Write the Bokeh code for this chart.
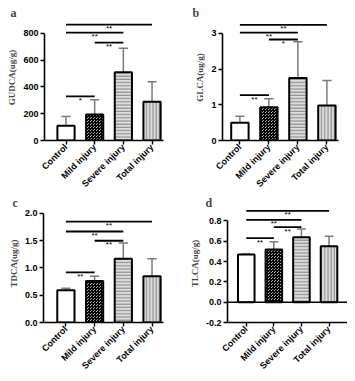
from bokeh.plotting import figure
from bokeh.layouts import column, row
from bokeh.models import FixedTicker, NumeralTickFormatter, Span, ColumnDataSource
from bokeh.core.properties import value
from bokeh.embed import file_html
from bokeh.resources import INLINE

categories = ["Control", "Mild injury", "Severe injury", "Total injury"]

gudca_mean = [110, 195, 510, 290]
gudca_sd = [70, 110, 180, 150]
gudca_sig = [(0, 1, 330, "*"), (1, 2, 732, "**"), (0, 2, 807, "**"), (0, 3, 867, "**")]

glca_mean = [0.50, 0.93, 1.75, 0.98]
glca_sd = [0.18, 0.24, 1.02, 0.70]
glca_sig = [(0, 1, 1.27, "**"), (1, 2, 2.83, "*"), (0, 2, 3.02, "**"), (0, 3, 3.24, "**")]

tdca_mean = [0.59, 0.76, 1.17, 0.85]
tdca_sd = [0.04, 0.09, 0.29, 0.32]
tdca_sig = [(0, 1, 0.92, "**"), (1, 2, 1.50, "**"), (0, 2, 1.67, "**"), (0, 3, 1.85, "**")]

tlca_mean = [0.47, 0.52, 0.64, 0.55]
tlca_sd = [0.005, 0.075, 0.08, 0.10]
tlca_sig = [(0, 1, 0.63, "**"), (1, 2, 0.74, "**"), (0, 2, 0.81, "**"), (0, 3, 0.90, "**")]

FILL = ["white", "white", "#dedede", "#dedede"]
HATCH = [" ", "criss_cross", "horizontal_line", "vertical_line"]
HATCH_COLOR = ["black", "black", "#8a8a8a", "#8a8a8a"]
HATCH_SCALE = [6, 3, 3.2, 3.2]
HATCH_WEIGHT = [1, 1.1, 1.1, 1.1]

SANS = "Liberation Sans"
SERIF = "Liberation Serif"


def panel(letter, ylabel, means, sds, sig, yr, bounds, ticks, fmt, xr, w, h,
          bl, br, bt, bb, toff, zero_line=False):
    p = figure(width=w, height=h, x_range=xr, y_range=yr, output_backend="svg",
               toolbar_location=None, min_border_left=bl, min_border_right=br,
               min_border_top=bt, min_border_bottom=bb)
    p.outline_line_color = None
    p.grid.visible = False
    p.background_fill_color = "white"
    p.border_fill_color = "white"
    xs = list(range(len(categories)))
    tops = [m + s for m, s in zip(means, sds)]
    p.segment(x0=xs, y0=means, x1=xs, y1=tops, line_color="#7a7a7a", line_width=1.5)
    p.segment(x0=[x - 0.16 for x in xs], y0=tops, x1=[x + 0.16 for x in xs], y1=tops,
              line_color="#7a7a7a", line_width=1.5)
    src = ColumnDataSource(dict(x=xs, top=means, fill=FILL, hatch=HATCH,
                                hc=HATCH_COLOR, hs=HATCH_SCALE, hw=HATCH_WEIGHT))
    p.vbar(x="x", top="top", bottom=0, width=0.6, source=src, fill_color="fill",
           hatch_pattern="hatch", hatch_color="hc", hatch_scale="hs", hatch_weight="hw",
           line_color="black", line_width=2)
    p.segment(x0=[s[0] for s in sig], y0=[s[2] for s in sig],
              x1=[s[1] for s in sig], y1=[s[2] for s in sig],
              line_color="black", line_width=1.8)
    p.text(x=[(s[0] + s[1]) / 2 for s in sig], y=[s[2] for s in sig],
           text=[s[3] for s in sig], text_align="center", text_baseline="alphabetic",
           y_offset=4, text_font=value(SANS), text_font_size="8px", text_color="black")
    if zero_line:
        p.add_layout(Span(location=0, dimension="width", line_color="black", line_width=1.6))
    p.yaxis.ticker = FixedTicker(ticks=ticks)
    p.yaxis.bounds = bounds
    if fmt:
        p.yaxis.formatter = NumeralTickFormatter(format=fmt)
    p.yaxis.axis_label = ylabel
    p.yaxis.axis_label_text_font = SERIF
    p.yaxis.axis_label_text_font_style = "bold"
    p.yaxis.axis_label_text_font_size = "9px"
    p.yaxis.axis_label_standoff = 3
    p.xaxis.ticker = FixedTicker(ticks=xs)
    p.xaxis.major_label_overrides = {i: c for i, c in enumerate(categories)}
    p.xaxis.major_label_orientation = 0.785398
    for ax in (p.xaxis, p.yaxis):
        ax.axis_line_width = 1.6
        ax.axis_line_color = "black"
        ax.major_tick_line_width = 1.4
        ax.major_tick_out = 4
        ax.major_tick_in = 0
        ax.minor_tick_line_color = None
        ax.major_label_text_font = SANS
        ax.major_label_text_font_style = "bold"
        ax.major_label_text_font_size = "9px"
        ax.major_label_text_color = "black"
    p.yaxis.major_label_standoff = 2
    p.xaxis.major_label_standoff = 1
    p.title.text = letter
    p.title.offset = toff
    p.title.text_font = SERIF
    p.title.text_font_style = "bold"
    p.title.text_font_size = "12px"
    p.title.vertical_align = "middle"
    p.title.standoff = -12
    return p


pa = panel("a", "GUDCA(ug/g)", gudca_mean, gudca_sd, gudca_sig, (0, 942), (0, 800),
           [0, 200, 400, 600, 800], None, (-0.75, 3.4), 175, 196, 44, 12, 14, 56, -34)
pb = panel("b", "GLCA(ug/g)", glca_mean, glca_sd, glca_sig, (0, 3.53), (0, 3),
           [0, 1, 2, 3], None, (-0.6, 3.4), 172, 196, 47, 9, 14, 56, -30)
pc = panel("c", "TDCA(ug/g)", tdca_mean, tdca_sd, tdca_sig, (0, 2.165), (0, 2.0),
           [0, 0.5, 1.0, 1.5, 2.0], "0.0", (-0.78, 3.4), 175, 182, 43, 12, 8, 56, -31)
pd = panel("d", "TLCA(ug/g)", tlca_mean, tlca_sd, tlca_sig, (-0.2, 0.962), (-0.2, 0.8),
           [-0.2, 0, 0.2, 0.4, 0.6, 0.8], "0.0", (-0.68, 3.67), 172, 182, 52, 0, 4, 56, -22,
           zero_line=True)

layout = column(row(pa, pb), row(pc, pd))
open("out.html", "w").write(file_html(layout, INLINE))
